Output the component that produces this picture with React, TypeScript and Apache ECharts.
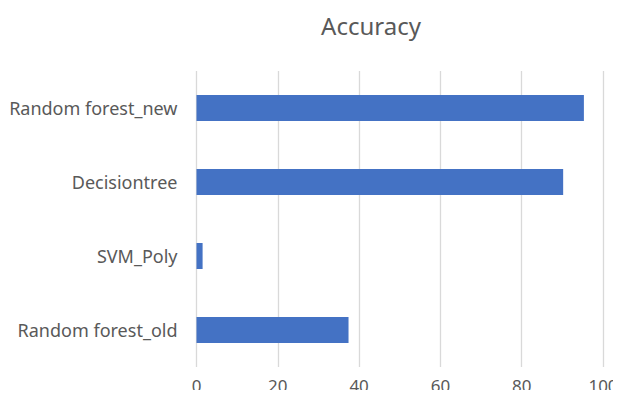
import React, { useEffect, useRef } from "react";
import * as echarts from "echarts";

const categories = ["Random forest_old", "SVM_Poly", "Decisiontree", "Random forest_new"];
const accuracy = [37.4, 1.5, 90.2, 95.3];
const xTicks = { min: 0, max: 100, interval: 20 };

export default function App() {
  const ref = useRef<HTMLDivElement>(null);
  useEffect(() => {
    const chart = echarts.init(ref.current!, null, { renderer: "svg" });
    chart.setOption({
      animation: false,
      title: {
        text: "Accuracy",
        left: 366,
        top: 8,
        textAlign: "center",
        textStyle: { fontFamily: "Noto Sans", fontSize: 24, fontWeight: "normal", color: "#595959" },
      },
      grid: { left: 196.5, right: 18, top: 71, bottom: 31, containLabel: false },
      xAxis: {
        type: "value",
        min: xTicks.min,
        max: xTicks.max,
        interval: xTicks.interval,
        axisLine: { show: false },
        axisTick: { show: false },
        splitLine: { lineStyle: { color: "#d9d9d9", width: 1.3 } },
        axisLabel: { fontFamily: "Noto Sans", fontSize: 17, color: "#595959", margin: 8, lineHeight: 20 },
      },
      yAxis: {
        type: "category",
        data: categories,
        axisLine: { show: false },
        axisTick: { show: false },
        axisLabel: { fontFamily: "Noto Sans", fontSize: 18, color: "#595959", margin: 19 },
      },
      series: [
        {
          type: "bar",
          data: accuracy,
          barWidth: 26,
          itemStyle: { color: "#4472C4" },
        },
      ],
    });
    return () => chart.dispose();
  }, []);
  return <div ref={ref} style={{ width: 621, height: 398, margin: -8 }} />;
}
